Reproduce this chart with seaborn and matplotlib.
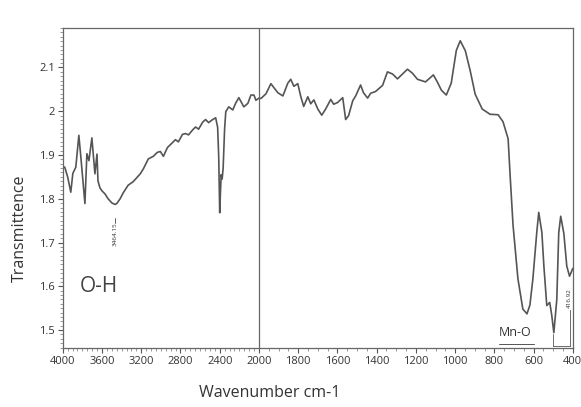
import numpy as np
import matplotlib
matplotlib.use("Agg")
import matplotlib.pyplot as plt
from matplotlib.ticker import FixedLocator, FixedFormatter, MultipleLocator
import seaborn as sns
import pandas as pd

# FTIR spectrum (wavenumber cm-1, transmittance)
wavenumber = [4000, 3979, 3949, 3918, 3897, 3867, 3836, 3815, 3795, 3774, 3754, 3733,
              3703, 3692, 3672, 3651, 3641, 3621, 3600, 3569, 3538, 3497, 3464, 3446,
              3415, 3385, 3333, 3282, 3210, 3179, 3128, 3077, 3036, 3005, 2974, 2933,
              2882, 2851, 2821, 2780, 2749, 2718, 2677, 2646, 2615, 2574, 2544, 2513,
              2472, 2441, 2421, 2410, 2400, 2395, 2385, 2375, 2365, 2350, 2338, 2308,
              2267, 2236, 2205, 2154, 2113, 2082, 2051, 2031, 2000, 1990, 1964, 1939,
              1924, 1903, 1878, 1853, 1838, 1822, 1802, 1787, 1772, 1751, 1736, 1720,
              1700, 1680, 1660, 1634, 1619, 1599, 1573, 1558, 1543, 1522, 1507, 1482,
              1467, 1446, 1431, 1406, 1370, 1345, 1319, 1294, 1243, 1218, 1192, 1151,
              1111, 1091, 1070, 1045, 1020, 994, 974, 948, 923, 898, 862, 822, 781,
              756, 730, 720, 705, 680, 655, 634, 619, 604, 584, 574, 558, 548, 533,
              518, 508, 497, 482, 472, 462, 446, 431, 417, 400]
transmittance = [1.874, 1.872, 1.849, 1.815, 1.858, 1.872, 1.945, 1.894, 1.842, 1.789, 1.903, 1.887,
                 1.939, 1.909, 1.857, 1.902, 1.841, 1.825, 1.818, 1.811, 1.800, 1.790, 1.787, 1.790,
                 1.800, 1.813, 1.831, 1.839, 1.857, 1.868, 1.891, 1.897, 1.906, 1.908, 1.897, 1.917,
                 1.928, 1.935, 1.930, 1.947, 1.949, 1.946, 1.957, 1.964, 1.959, 1.975, 1.981, 1.974,
                 1.981, 1.985, 1.963, 1.895, 1.768, 1.800, 1.855, 1.845, 1.870, 1.960, 1.999, 2.010,
                 2.003, 2.019, 2.031, 2.010, 2.018, 2.037, 2.037, 2.025, 2.030, 2.029, 2.040, 2.063,
                 2.054, 2.042, 2.035, 2.064, 2.073, 2.057, 2.063, 2.034, 2.011, 2.033, 2.017, 2.026,
                 2.005, 1.991, 2.005, 2.027, 2.016, 2.020, 2.031, 1.981, 1.990, 2.024, 2.035, 2.060,
                 2.042, 2.030, 2.041, 2.045, 2.059, 2.090, 2.085, 2.074, 2.096, 2.087, 2.073, 2.067,
                 2.083, 2.067, 2.048, 2.037, 2.064, 2.139, 2.161, 2.138, 2.092, 2.039, 2.005, 1.993, 1.992,
                 1.976, 1.937, 1.855, 1.740, 1.617, 1.548, 1.537, 1.557, 1.616, 1.723, 1.769, 1.723, 1.648, 1.556,
                 1.563, 1.535, 1.494, 1.569, 1.722, 1.760, 1.721, 1.646, 1.623, 1.641]

xticks = [4000, 3600, 3200, 2800, 2400, 2000, 1800, 1600, 1400, 1200, 1000, 800, 600, 400]
yticks = [1.5, 1.6, 1.7, 1.8, 1.9, 2.0, 2.1]
ytick_labels = ["1.5", "1.6", "1.7", "1.8", "1.9", "2", "2.1"]

sns.set_style("ticks")
plt.rcParams['font.family'] = ['Open Sans', 'DejaVu Sans']

df = pd.DataFrame({"Wavenumber": wavenumber, "Transmittence": transmittance})

fig = plt.figure(figsize=(5.81, 4.07), dpi=100)
ax = fig.add_axes([0.108, 0.145, 0.878, 0.786])

sns.lineplot(data=df, x="Wavenumber", y="Transmittence", sort=False, ax=ax,
             color="#555555", lw=1.2)


# scale doubles below 2000 cm-1, like the instrument printout
def fwd(x):
    x = np.asarray(x, dtype=float)
    return np.where(x >= 2000, x - 2000, 2 * (x - 2000))


def inv(y):
    y = np.asarray(y, dtype=float)
    return np.where(y >= 0, y + 2000, y / 2 + 2000)


ax.set_xscale('function', functions=(fwd, inv))
ax.set_xlim(4000, 400)
ax.set_ylim(1.459, 2.19)

ax.xaxis.set_major_locator(FixedLocator(xticks))
ax.xaxis.set_major_formatter(FixedFormatter([str(t) for t in xticks]))
ax.xaxis.set_minor_locator(MultipleLocator(50))
ax.yaxis.set_major_locator(FixedLocator(yticks))
ax.yaxis.set_major_formatter(FixedFormatter(ytick_labels))
ax.yaxis.set_minor_locator(MultipleLocator(0.01))

ax.axvline(2000, color="#666666", lw=0.9)

for s in ax.spines.values():
    s.set_color("#666666")
    s.set_linewidth(0.9)
ax.tick_params(which='major', direction='out', length=3.5, width=0.8, color="#555555",
               labelsize=8, labelcolor="#333333", pad=2)
ax.tick_params(which='minor', direction='out', length=2.5, width=0.6, color="#888888")

ax.set_xlabel("Wavenumber cm-1", fontsize=11.5, color="#333333", va="center")
ax.set_ylabel("Transmittence", fontsize=11.5, color="#333333", va="center")
ax.xaxis.set_label_coords(0.406, -0.142)
ax.yaxis.set_label_coords(-0.085, 0.375)

# peak labels
ax.text(3470, 1.718, "3464.15", rotation=90, fontsize=4.5, color="#333333",
        ha="center", va="center")
ax.plot([3464, 3464], [1.745, 1.757], color="#444444", lw=0.6)
ax.text(420, 1.573, "416.92", rotation=90, fontsize=4.5, color="#333333",
        ha="center", va="center")
ax.plot([417, 417], [1.463, 1.545], color="#555555", lw=0.6)
ax.plot([500, 500], [1.463, 1.49], color="#555555", lw=0.6)
ax.plot([500, 417], [1.463, 1.463], color="#555555", lw=0.6)

ax.text(3631, 1.60, "O-H", fontsize=15, color="#444444", ha="center", va="center",
        family=['Liberation Sans Narrow', 'Open Sans', 'DejaVu Sans'])
ax.text(695, 1.494, "Mn-O", fontsize=9, color="#333333", ha="center", va="center",
        family=['Liberation Sans Narrow', 'Open Sans', 'DejaVu Sans'])
ax.plot([775, 600], [1.469, 1.469], color="#555555", lw=0.7)

fig.savefig("out.png", dpi=100)
